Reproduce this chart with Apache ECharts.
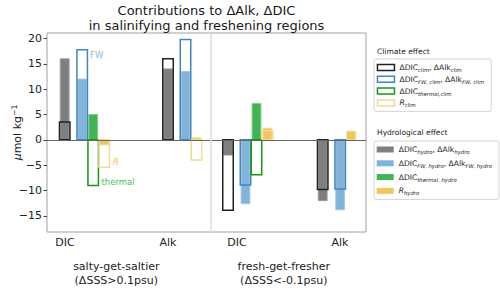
<!DOCTYPE html>
<html><head><meta charset="utf-8">
<script src="https://cdn.jsdelivr.net/npm/echarts@6/dist/echarts.min.js"></script>
<style>html,body{margin:0;padding:0;background:#fff}#c{width:500px;height:290px}</style>
</head><body><div id="c"></div><script>
// ---------- data ----------
const varLabels = ['DIC', 'Alk', 'DIC', 'Alk'];
const regionLabels = ['salty-get-saltier\n(ΔSSS>0.1psu)', 'fresh-get-fresher\n(ΔSSS<-0.1psu)'];
const yTicks = [-15, -10, -5, 0, 5, 10, 15, 20];
// groups: salty DIC, salty Alk, fresh DIC, fresh Alk
const totalClim    = [3.5, 16.0, -13.9, -9.8];
const totalHydro   = [16.0, 14.0, -3.0, -12.0];
const fwClim       = [17.8, 19.8, -8.9, -9.7];
const fwHydro      = [12.0, 13.5, -12.6, -13.8];
const thermalClim  = [-9.0, null, -6.9, null];
const thermalHydro = [5.0, null, 7.2, null];
const rClim        = [-5.4, -4.0, 1.8, null];
const rHydro       = [-1.0, 0.4, 2.3, 1.7];
const annoText = ['FW', 'R', 'thermal'];

// ---------- layout ----------
const FONT = 'DejaVu Sans';
const groupPos = [1.77, 12.1, 18.1, 27.57];
const slotOffset = [0, 1.75, 2.85, 3.95];
const tickPos = [1.8, 12.1, 19.0, 29.3];
const regionPos = [6.93, 23.68];
const sepPos = 16.4;
const annoPos = [[4.3, 16.7], [6.6, -4.3], [5.45, -8.4]];
const annoColor = ['#8cb9dd', '#f0c24c', '#4fba62'];
const annoItalic = [false, true, false];
const FILL_W = 0.88, LINE_W = 1.05;

function hasThermal(g) { return thermalClim[g] !== null || thermalHydro[g] !== null; }
function build(vals, kind) {
  const out = [];
  vals.forEach((v, g) => {
    if (v === null) return;
    let slot = kind;
    if (kind === 3 && !hasThermal(g)) slot = 2;
    out.push([groupPos[g] + slotOffset[slot], v]);
  });
  return out;
}
function barRender(width, outline, color, edge) {
  return function (params, api) {
    const x = api.value(0), y = api.value(1);
    const p0 = api.coord([x - width / 2, 0]);
    const p1 = api.coord([x + width / 2, y]);
    const shape = { x: Math.min(p0[0], p1[0]), y: Math.min(p0[1], p1[1]),
      width: Math.abs(p1[0] - p0[0]), height: Math.abs(p1[1] - p0[1]) };
    const style = outline ? { fill: 'none', stroke: color, lineWidth: 1.5 }
                          : { fill: color, stroke: edge, lineWidth: 1 };
    return { type: 'rect', shape: shape, style: style };
  };
}
const defs = [
  ['hydro_total', totalHydro, 0, false, '#7f7f7f', '#9a9a9a'],
  ['hydro_fw', fwHydro, 1, false, '#82b3d8', '#a3c7e3'],
  ['hydro_thermal', thermalHydro, 2, false, '#43b453', '#7fcd8a'],
  ['hydro_R', rHydro, 3, false, '#f1c65c', '#f5d68e'],
  ['clim_total', totalClim, 0, true, '#222222'],
  ['clim_fw', fwClim, 1, true, '#3f86c2'],
  ['clim_thermal', thermalClim, 2, true, '#139a13'],
  ['clim_R', rClim, 3, true, '#f6d896']
];
const series = defs.map((d, i) => ({
  name: d[0], type: 'custom', coordinateSystem: 'cartesian2d', xAxisIndex: 0, yAxisIndex: 0,
  data: build(d[1], d[2]), encode: { x: 0, y: 1 }, z: d[3] ? 3 : 2,
  itemStyle: { color: d[4] }, renderItem: barRender(d[3] ? LINE_W : FILL_W, d[3], d[4], d[5]),
  silent: true
}));
series.push({
  name: 'lines', type: 'custom', data: [], renderItem: () => null, silent: true,
  markLine: { silent: true, symbol: 'none', label: { show: false }, animation: false,
    data: [
      { yAxis: 0, lineStyle: { color: '#666', width: 1.2, type: 'solid' } },
      { xAxis: sepPos, lineStyle: { color: '#dcdcdc', width: 1.5, type: 'solid' } }
    ] }
});
series.push({
  name: 'anno', type: 'custom', z: 5, silent: true,
  data: annoPos, encode: { x: 0, y: 1 },
  renderItem: function (params, api) {
    const i = params.dataIndex;
    const p = api.coord([api.value(0), api.value(1)]);
    return { type: 'text', x: p[0], y: p[1], style: { text: annoText[i], fill: annoColor[i],
      font: (annoItalic[i] ? 'italic ' : '') + '8.5px "' + FONT + '"', verticalAlign: 'middle', align: 'left' } };
  }
});

const legendText = {
  clim_total: '{m|ΔDIC}{su|clim}{m|, ΔAlk}{su|clim}',
  clim_fw: '{m|ΔDIC}{si|FW,}{su| clim}{m|, ΔAlk}{si|FW,}{su| clim}',
  clim_thermal: '{m|ΔDIC}{si|thermal,}{su|clim}',
  clim_R: '{mi|R}{su|clim}',
  hydro_total: '{m|ΔDIC}{si|hydro}{m|, ΔAlk}{si|hydro}',
  hydro_fw: '{m|ΔDIC}{si|FW, hydro}{m|, ΔAlk}{si|FW, hydro}',
  hydro_thermal: '{m|ΔDIC}{si|thermal, hydro}',
  hydro_R: '{mi|R}{si|hydro}'
};
const rich = {
  m: { fontSize: 7.6, fontFamily: FONT, color: '#222', lineHeight: 10 },
  mi: { fontSize: 7.6, fontFamily: FONT, color: '#222', fontStyle: 'italic', lineHeight: 10 },
  su: { fontSize: 5.3, fontFamily: FONT, color: '#222', lineHeight: 4, verticalAlign: 'bottom' },
  si: { fontSize: 5.3, fontFamily: FONT, color: '#222', fontStyle: 'italic', lineHeight: 4, verticalAlign: 'bottom' }
};
function legendData(prefix) {
  return defs.filter(d => d[0].startsWith(prefix)).map(d => ({
    name: d[0], icon: 'rect',
    itemStyle: d[3] ? { color: '#fff', borderColor: d[4], borderWidth: 1.5 } : { color: d[4], borderWidth: 0 }
  }));
}
const legendBase = {
  orient: 'vertical', itemWidth: 17, itemHeight: 6, selectedMode: false,
  borderColor: '#d4d4d4', borderWidth: 1, borderRadius: 2, backgroundColor: '#fff',
  formatter: n => legendText[n], textStyle: { rich: rich, lineHeight: 10 }
};

const option = {
  animation: false,
  title: [
    { text: 'Contributions to ΔAlk, ΔDIC\nin salinifying and freshening regions', left: 206.5, top: 3.5, padding: 0,
      textAlign: 'center', textStyle: { fontFamily: FONT, fontSize: 13, fontWeight: 'normal', color: '#1a1a1a', lineHeight: 14.5 } },
    { text: 'Climate effect', left: 377, top: 47.5, padding: 0, textStyle: { fontFamily: FONT, fontSize: 7.5, fontWeight: 'normal', color: '#222' } },
    { text: 'Hydrological effect', left: 377, top: 128.5, padding: 0, textStyle: { fontFamily: FONT, fontSize: 7.5, fontWeight: 'normal', color: '#222' } }
  ],
  legend: [
    Object.assign({}, legendBase, { data: legendData('clim'), left: 374, top: 59, itemGap: 1.8, padding: [3.5, 7, 3.5, 2.7] }),
    Object.assign({}, legendBase, { data: legendData('hydro'), left: 374, top: 141, itemGap: 3.8, padding: [3.5, 7, 3.5, 2.7] })
  ],
  grid: { left: 47, right: 134, top: 33, bottom: 58, show: true, borderColor: '#a0a0a0', borderWidth: 1,
    backgroundColor: 'transparent', containLabel: false, outerBoundsMode: 'none' },
  xAxis: [
    { type: 'value', min: 0, max: 31.9, splitLine: { show: false }, axisLine: { show: false },
      axisTick: { show: false },
      axisLabel: { customValues: tickPos, margin: 5, fontFamily: FONT, fontSize: 11, color: '#222',
        formatter: v => { const i = tickPos.findIndex(t => Math.abs(t - v) < 1e-6); return i >= 0 ? varLabels[i] : ''; } } },
    { type: 'value', min: 0, max: 31.9, position: 'bottom', splitLine: { show: false }, axisLine: { show: false },
      axisTick: { show: false },
      axisLabel: { customValues: regionPos, margin: 27, fontFamily: FONT, fontSize: 11, color: '#222', lineHeight: 14.3,
        formatter: v => { const i = regionPos.findIndex(t => Math.abs(t - v) < 1e-6); return i >= 0 ? regionLabels[i] : ''; } } }
  ],
  yAxis: { type: 'value', min: -18.2, max: 21.1, splitLine: { show: false },
    axisLine: { show: false },
    axisTick: { show: true, customValues: yTicks, length: 3.5, lineStyle: { color: '#444' } },
    axisLabel: { customValues: yTicks, margin: 5, fontFamily: FONT, fontSize: 11, color: '#222',
      formatter: v => String(v).replace('-', '\u2212') },
    name: '{i|μ}{n|mol kg}{s|\u22121}', nameLocation: 'middle', nameGap: 23, nameRotate: 90, nameMoveOverlap: false,
    nameTextStyle: { rich: {
      i: { fontFamily: FONT, fontSize: 11, fontStyle: 'italic', color: '#222', lineHeight: 14 },
      n: { fontFamily: FONT, fontSize: 11, color: '#222', lineHeight: 14 },
      s: { fontFamily: FONT, fontSize: 7.7, color: '#222', lineHeight: 6, verticalAlign: 'top' } } } },
  series: series
};
const chart = echarts.init(document.getElementById('c'), null, { renderer: 'svg' });
chart.setOption(option);
</script></body></html>
